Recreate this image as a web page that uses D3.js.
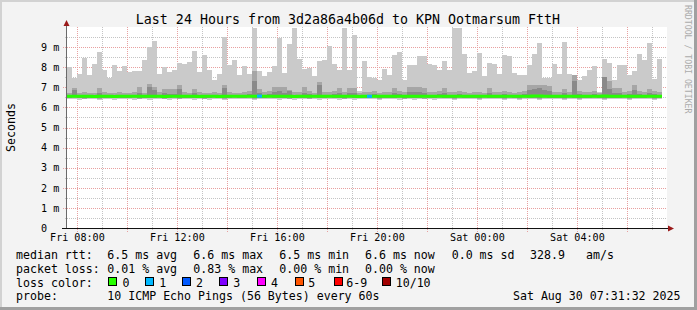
<!DOCTYPE html>
<html>
<head>
<meta charset="utf-8">
<script src="https://cdnjs.cloudflare.com/ajax/libs/d3/7.8.5/d3.min.js"></script>
<style>
	body { margin: 0; background: #f3f3f3; }
	svg { display: block; font-family: "DejaVu Sans Mono", monospace; }
</style>
</head>
<body>
<div id="chart"></div>
<script>
// one value per 12 minute bin, Fri 07:35 -> Sat 07:35 (last bin still empty)
var rttMax = [
	8.00, 7.48, 7.64, 8.45, 7.63, 8.17, 8.75, 7.84, 7.46, 8.09,
	7.80, 8.05, 7.76, 7.79, 7.79, 8.34, 9.00, 9.28, 7.68, 8.00,
	7.76, 7.84, 8.20, 8.14, 8.25, 8.83, 7.76, 8.59, 7.84, 7.34,
	7.64, 9.49, 8.09, 8.37, 7.59, 8.05, 7.68, 9.95, 7.79, 7.54,
	7.76, 8.05, 9.44, 7.71, 9.13, 9.96, 8.39, 7.89, 7.96, 7.54,
	8.29, 8.37, 9.03, 8.17, 7.84, 9.96, 7.84, 9.58, 6.81, 8.30,
	7.51, 7.46, 7.34, 7.93, 7.63, 8.59, 8.78, 7.34, 8.12, 8.09,
	8.55, 8.55, 8.17, 8.09, 7.84, 8.29, 7.84, 9.96, 9.96, 8.67,
	7.73, 7.80, 8.70, 7.54, 8.20, 8.17, 7.64, 8.59, 8.55, 7.71,
	7.59, 7.63, 8.09, 8.67, 9.22, 7.48, 7.48, 8.17, 7.68, 9.25,
	7.68, 7.15, 7.34, 7.56, 7.84, 8.04, 6.77, 8.39, 8.22, 7.34,
	8.09, 8.09, 7.59, 7.80, 8.67, 8.34, 9.20, 7.43, 8.39
];
var rttUpper = [
	6.74, 6.95, 6.72, 6.76, 6.74, 6.72, 6.98, 6.75, 6.72, 6.74,
	6.76, 6.72, 6.74, 6.78, 7.03, 6.74, 7.16, 7.03, 6.76, 6.92,
	6.92, 6.92, 7.11, 6.78, 6.74, 6.92, 6.76, 6.74, 6.72, 6.76,
	6.74, 7.11, 6.78, 6.74, 6.72, 6.76, 6.80, 7.80, 6.90, 6.78,
	6.80, 7.03, 7.03, 7.03, 6.85, 6.78, 6.76, 7.03, 6.80, 6.74,
	7.28, 6.78, 6.76, 6.80, 6.95, 6.76, 6.96, 6.96, 6.74, 6.78,
	6.76, 6.80, 6.74, 6.76, 6.78, 6.96, 6.80, 6.76, 7.00, 7.03,
	7.00, 6.98, 6.78, 6.76, 6.80, 6.96, 6.76, 6.78, 6.80, 6.76,
	6.74, 6.78, 6.76, 6.74, 6.96, 6.78, 6.76, 6.80, 6.76, 6.74,
	6.78, 6.80, 7.10, 7.10, 7.12, 7.10, 7.08, 6.78, 6.76, 6.90,
	6.78, 7.62, 6.80, 6.76, 6.78, 6.80, 6.72, 7.50, 7.30, 6.96,
	6.96, 6.78, 6.80, 7.10, 6.80, 6.78, 6.92, 6.80, 6.78
];
var rttUpperDark = [
	6.63, 6.85, 6.62, 6.64, 6.63, 6.62, 6.70, 6.63, 6.62, 6.63,
	6.64, 6.62, 6.63, 6.64, 6.72, 6.63, 7.00, 6.85, 6.64, 6.70,
	6.68, 6.66, 6.90, 6.64, 6.63, 6.70, 6.64, 6.63, 6.62, 6.64,
	6.63, 6.95, 6.64, 6.63, 6.62, 6.64, 6.66, 7.30, 6.70, 6.64,
	6.66, 6.75, 6.80, 6.72, 6.80, 6.64, 6.64, 6.72, 6.66, 6.63,
	7.10, 6.64, 6.64, 6.66, 6.70, 6.64, 6.72, 6.70, 6.63, 6.64,
	6.64, 6.66, 6.63, 6.64, 6.64, 6.72, 6.66, 6.64, 6.75, 6.78,
	6.75, 6.70, 6.64, 6.64, 6.66, 6.70, 6.64, 6.64, 6.66, 6.64,
	6.63, 6.64, 6.64, 6.63, 6.72, 6.64, 6.64, 6.66, 6.64, 6.63,
	6.64, 6.66, 6.85, 6.90, 6.95, 6.85, 6.80, 6.64, 6.64, 6.70,
	6.64, 7.30, 6.66, 6.64, 6.64, 6.66, 6.62, 7.50, 6.90, 6.70,
	6.72, 6.64, 6.66, 6.85, 6.66, 6.64, 6.70, 6.66, 6.64
];
var rttMedian = [
	6.55, 6.56, 6.55, 6.56, 6.55, 6.54, 6.56, 6.55, 6.55, 6.54,
	6.55, 6.55, 6.56, 6.55, 6.55, 6.56, 6.56, 6.55, 6.55, 6.54,
	6.55, 6.55, 6.56, 6.55, 6.55, 6.55, 6.54, 6.55, 6.55, 6.55,
	6.54, 6.55, 6.55, 6.55, 6.56, 6.55, 6.55, 6.56, 6.56, 6.55,
	6.55, 6.56, 6.56, 6.55, 6.55, 6.54, 6.55, 6.56, 6.55, 6.55,
	6.56, 6.55, 6.55, 6.55, 6.56, 6.55, 6.55, 6.55, 6.54, 6.55,
	6.55, 6.55, 6.55, 6.56, 6.55, 6.56, 6.55, 6.55, 6.56, 6.56,
	6.56, 6.55, 6.55, 6.55, 6.55, 6.56, 6.55, 6.55, 6.55, 6.56,
	6.55, 6.55, 6.56, 6.55, 6.55, 6.56, 6.55, 6.55, 6.56, 6.55,
	6.55, 6.55, 6.56, 6.57, 6.57, 6.56, 6.56, 6.55, 6.55, 6.56,
	6.55, 6.56, 6.55, 6.55, 6.55, 6.56, 6.55, 6.57, 6.56, 6.55,
	6.56, 6.55, 6.55, 6.56, 6.55, 6.55, 6.56, 6.55, 6.56
];
var rttLowerDark = [
	6.49, 6.50, 6.49, 6.48, 6.49, 6.50, 6.48, 6.49, 6.49, 6.50,
	6.49, 6.48, 6.49, 6.50, 6.49, 6.49, 6.48, 6.49, 6.50, 6.49,
	6.49, 6.50, 6.48, 6.49, 6.49, 6.48, 6.50, 6.49, 6.49, 6.50,
	6.49, 6.48, 6.49, 6.50, 6.49, 6.49, 6.50, 6.48, 6.49, 6.49,
	6.50, 6.49, 6.48, 6.49, 6.50, 6.49, 6.49, 6.48, 6.49, 6.50,
	6.49, 6.49, 6.50, 6.48, 6.49, 6.49, 6.50, 6.49, 6.48, 6.49,
	6.49, 6.50, 6.49, 6.49, 6.48, 6.49, 6.50, 6.49, 6.49, 6.48,
	6.49, 6.50, 6.49, 6.49, 6.50, 6.48, 6.49, 6.49, 6.50, 6.49,
	6.49, 6.48, 6.49, 6.50, 6.49, 6.49, 6.48, 6.49, 6.50, 6.49,
	6.49, 6.50, 6.48, 6.49, 6.49, 6.50, 6.49, 6.48, 6.49, 6.49,
	6.50, 6.49, 6.49, 6.48, 6.49, 6.50, 6.49, 6.49, 6.48, 6.49,
	6.49, 6.50, 6.49, 6.49, 6.48, 6.49, 6.50, 6.49, 6.49
];
var rttLower = [
	6.46, 6.45, 6.46, 6.44, 6.46, 6.47, 6.44, 6.46, 6.45, 6.46,
	6.46, 6.45, 6.47, 6.46, 6.44, 6.46, 6.45, 6.46, 6.46, 6.44,
	6.45, 6.46, 6.44, 6.46, 6.47, 6.45, 6.46, 6.44, 6.46, 6.45,
	6.46, 6.44, 6.46, 6.45, 6.46, 6.47, 6.46, 6.44, 6.45, 6.46,
	6.46, 6.47, 6.45, 6.46, 6.44, 6.45, 6.46, 6.46, 6.44, 6.46,
	6.45, 6.46, 6.47, 6.45, 6.46, 6.44, 6.46, 6.45, 6.46, 6.46,
	6.46, 6.45, 6.44, 6.46, 6.47, 6.45, 6.46, 6.44, 6.46, 6.45,
	6.46, 6.44, 6.46, 6.45, 6.46, 6.47, 6.46, 6.44, 6.45, 6.46,
	6.45, 6.46, 6.44, 6.46, 6.47, 6.45, 6.46, 6.44, 6.46, 6.46,
	6.44, 6.46, 6.45, 6.46, 6.44, 6.46, 6.45, 6.47, 6.46, 6.44,
	6.46, 6.45, 6.44, 6.46, 6.45, 6.47, 6.46, 6.44, 6.46, 6.45,
	6.46, 6.45, 6.44, 6.46, 6.47, 6.45, 6.46, 6.44, 6.46
];
var rttMin = [
	6.40, 6.41, 6.39, 6.40, 6.42, 6.40, 6.38, 6.41, 6.40, 6.39,
	6.41, 6.40, 6.42, 6.39, 6.40, 6.41, 6.38, 6.40, 6.41, 6.40,
	6.39, 6.41, 6.40, 6.42, 6.40, 6.38, 6.41, 6.40, 6.39, 6.41,
	6.40, 6.39, 6.41, 6.40, 6.42, 6.40, 6.41, 6.39, 6.40, 6.41,
	6.40, 6.42, 6.39, 6.40, 6.41, 6.38, 6.40, 6.41, 6.40, 6.42,
	6.39, 6.40, 6.41, 6.40, 6.39, 6.41, 6.40, 6.38, 6.41, 6.40,
	6.40, 6.41, 6.39, 6.40, 6.42, 6.40, 6.38, 6.41, 6.40, 6.39,
	6.41, 6.40, 6.42, 6.39, 6.40, 6.41, 6.40, 6.39, 6.41, 6.40,
	6.40, 6.41, 6.39, 6.40, 6.42, 6.40, 6.41, 6.38, 6.40, 6.41,
	6.39, 6.40, 6.41, 6.40, 6.39, 6.41, 6.40, 6.42, 6.40, 6.38,
	6.41, 6.40, 6.39, 6.41, 6.40, 6.42, 6.40, 6.39, 6.41, 6.40,
	6.40, 6.41, 6.39, 6.40, 6.42, 6.40, 6.41, 6.39, 6.40
];
// lost pings out of 10 per bin
var lossCount = [
	0, 0, 0, 0, 0, 0, 0, 0, 0, 0,
	0, 0, 0, 0, 0, 0, 0, 0, 0, 0,
	0, 0, 0, 0, 0, 0, 0, 0, 0, 0,
	0, 0, 0, 0, 0, 0, 0, 0, 1, 0,
	0, 0, 0, 0, 0, 0, 0, 0, 0, 0,
	0, 0, 0, 0, 0, 0, 0, 0, 0, 0,
	1, 0, 0, 0, 0, 0, 0, 0, 0, 0,
	0, 0, 0, 0, 0, 0, 0, 0, 0, 0,
	0, 0, 0, 0, 0, 0, 0, 0, 0, 0,
	0, 0, 0, 0, 0, 0, 0, 0, 0, 0,
	0, 0, 0, 0, 0, 0, 0, 0, 0, 0,
	0, 0, 0, 0, 0, 0, 0, 0, 0
];

var lossLabels = ["0", "1", "2", "3", "4", "5", "6-9", "10/10"];
var lossColors = ["#26ff00", "#00b8ff", "#0059ff", "#7e00ff", "#ff00ff", "#ff5500", "#ff0000", "#a10000"];
var yTickValues = [0, 1, 2, 3, 4, 5, 6, 7, 8, 9];
var rttStats = ["6.5 ms avg", "6.6 ms max", "6.5 ms min", "6.6 ms now", "0.0 ms sd", "328.9", "am/s"];
var lossStats = ["0.01 % avg", "0.83 % max", "0.00 % min", "0.00 % now"];
var titleText = "Last 24 Hours from 3d2a86a4b06d to KPN Ootmarsum FttH";
var probeText = "10 ICMP Echo Pings (56 Bytes) every 60s";
var stampText = "Sat Aug 30 07:31:32 2025";

var W = 697, H = 310;
var plot = {left: 67, right: 667, top: 27, bottom: 228};
var binMinutes = 12;
var t0 = new Date(2025, 7, 29, 7, 35), t1 = new Date(2025, 7, 30, 7, 35);

var x = d3.scaleTime().domain([t0, t1]).range([plot.left, plot.right]);
var y = d3.scaleLinear().domain([0, 10]).range([plot.bottom, plot.top]);

function binStart(i) { return d3.timeMinute.offset(t0, i * binMinutes); }
function crisp(v) { return Math.round(v) + 0.5; }

var svg = d3.select("#chart").append("svg")
	.attr("width", W)
	.attr("height", H);

// frame
svg.append("rect").attr("width", W).attr("height", H).attr("fill", "#f3f3f3");
svg.append("rect").attr("x", 0).attr("y", 0).attr("width", W).attr("height", 2).attr("fill", "#d2d2d2");
svg.append("rect").attr("x", 0).attr("y", 0).attr("width", 2).attr("height", H).attr("fill", "#d2d2d2");
svg.append("rect").attr("x", 0).attr("y", H - 3).attr("width", W).attr("height", 3).attr("fill", "#a0a0a0");
svg.append("rect").attr("x", W - 3).attr("y", 0).attr("width", 3).attr("height", H).attr("fill", "#a0a0a0");

svg.append("rect")
	.attr("x", plot.left).attr("y", plot.top)
	.attr("width", plot.right - plot.left).attr("height", plot.bottom - plot.top)
	.attr("fill", "#ffffff");

var grid = svg.append("g").attr("shape-rendering", "crispEdges").attr("stroke-width", 1);

// minor grid: half ms and every hour
grid.selectAll(".hminor")
	.data(y.ticks(20).filter(function(d) { return d % 1 !== 0; }))
	.enter().append("line")
		.attr("x1", plot.left - 2).attr("x2", plot.right)
		.attr("y1", function(d) { return crisp(y(d)); })
		.attr("y2", function(d) { return crisp(y(d)); })
		.attr("stroke", "#c4c4c4").attr("stroke-dasharray", "1,1");

var hours = d3.timeHour.range(t0, t1);
grid.selectAll(".vminor")
	.data(hours.filter(function(d) { return d.getHours() % 2 === 1; }))
	.enter().append("line")
		.attr("x1", function(d) { return crisp(x(d)); })
		.attr("x2", function(d) { return crisp(x(d)); })
		.attr("y1", plot.top).attr("y2", plot.bottom + 2)
		.attr("stroke", "#c4c4c4").attr("stroke-dasharray", "1,1");

// major grid: whole ms and every 2 hours
grid.selectAll(".hmajor")
	.data(yTickValues.filter(function(d) { return d > 0; }))
	.enter().append("line")
		.attr("x1", plot.left - 4).attr("x2", plot.right)
		.attr("y1", function(d) { return crisp(y(d)); })
		.attr("y2", function(d) { return crisp(y(d)); })
		.attr("stroke", "#e8a0a0").attr("stroke-dasharray", "1,1");

grid.selectAll(".vmajor")
	.data(hours.filter(function(d) { return d.getHours() % 2 === 0; }))
	.enter().append("line")
		.attr("x1", function(d) { return crisp(x(d)); })
		.attr("x2", function(d) { return crisp(x(d)); })
		.attr("y1", plot.top).attr("y2", plot.bottom + 4)
		.attr("stroke", "#e8a0a0").attr("stroke-dasharray", "1,1");

// smoke: outer pings light, inner pings darker
var bins = d3.range(rttMax.length);
var smoke = svg.append("g").attr("shape-rendering", "crispEdges");
var layers = [
	{lo: rttMin, hi: rttMax, color: "#cacaca"},
	{lo: rttLower, hi: rttUpper, color: "#a6a6a6"},
	{lo: rttLowerDark, hi: rttUpperDark, color: "#8a8a8a"}
];
layers.forEach(function(layer) {
	smoke.selectAll(null)
		.data(bins)
		.enter().append("rect")
			.attr("x", function(i) { return x(binStart(i)); })
			.attr("width", function(i) { return x(binStart(i + 1)) - x(binStart(i)); })
			.attr("y", function(i) { return y(layer.hi[i]); })
			.attr("height", function(i) { return y(layer.lo[i]) - y(layer.hi[i]); })
			.attr("fill", layer.color);
});

// median line, coloured by loss
function lossIndex(n) {
	if (n >= 10) return 7;
	if (n >= 6) return 6;
	return n;
}
var medianPts = bins.map(function(i) { return [x(binStart(i)), y(rttMedian[i])]; });
medianPts.push([x(binStart(bins.length)), y(rttMedian[bins.length - 1])]);
var line = d3.line().curve(d3.curveStepAfter);

svg.append("path")
	.attr("d", line(medianPts))
	.attr("fill", "none")
	.attr("stroke", lossColors[0])
	.attr("stroke-width", 3);

svg.selectAll(".lossseg")
	.data(bins.filter(function(i) { return lossCount[i] > 0; }))
	.enter().append("path")
		.attr("d", function(i) {
			return line([[x(binStart(i)), y(rttMedian[i])], [x(binStart(i + 1)), y(rttMedian[i])]]);
		})
		.attr("fill", "none")
		.attr("stroke", function(i) { return lossColors[lossIndex(lossCount[i])]; })
		.attr("stroke-width", 3);

// axes
svg.append("line")
	.attr("x1", plot.left - 0.5).attr("x2", plot.left - 0.5)
	.attr("y1", plot.bottom).attr("y2", plot.top - 3)
	.attr("stroke", "#6a6a6a").attr("shape-rendering", "crispEdges");
svg.append("line")
	.attr("x1", plot.left - 5).attr("x2", plot.right + 2)
	.attr("y1", plot.bottom + 0.5).attr("y2", plot.bottom + 0.5)
	.attr("stroke", "#111").attr("shape-rendering", "crispEdges");
svg.append("path")
	.attr("d", "M" + (plot.left - 3.5) + "," + (plot.top - 1) + "L" + (plot.left - 0.5) + "," + (plot.top - 7) + "L" + (plot.left + 2.5) + "," + (plot.top - 1) + "Z")
	.attr("fill", "#9a1a1a");
svg.append("path")
	.attr("d", "M" + (plot.right + 1) + "," + (plot.bottom - 2.5) + "L" + (plot.right + 7) + "," + (plot.bottom + 0.5) + "L" + (plot.right + 1) + "," + (plot.bottom + 3.5) + "Z")
	.attr("fill", "#9a1a1a");

// tick labels
var fmtTime = d3.timeFormat("%a %H:%M");
svg.selectAll(".xlab")
	.data(hours.filter(function(d) { return d.getHours() % 4 === 0; }))
	.enter().append("text")
		.attr("x", function(d) { return x(d); })
		.attr("y", 240.8)
		.attr("text-anchor", "middle")
		.attr("font-size", "10.1px")
		.attr("fill", "#000")
		.text(fmtTime);

svg.selectAll(".ylab")
	.data(yTickValues)
	.enter().append("text")
		.attr("x", 41)
		.attr("y", function(d) { return y(d) + 3.7; })
		.attr("font-size", "10.1px")
		.attr("fill", "#000")
		.text(function(d) { return d === 0 ? "0" : d + " m"; });

svg.append("text")
	.attr("transform", "translate(14.5," + ((plot.top + plot.bottom) / 2) + ") rotate(-90)")
	.attr("text-anchor", "middle")
	.attr("font-size", "11.6px")
	.text("Seconds");

svg.append("text")
	.attr("x", 348).attr("y", 24)
	.attr("text-anchor", "middle")
	.attr("font-size", "13.3px")
	.text(titleText);

svg.append("text")
	.attr("transform", "translate(684.5,5) rotate(90)")
	.attr("font-size", "8.2px")
	.attr("fill", "#ababab")
	.text("RRDTOOL / TOBI OETIKER");

// legend
var legend = svg.append("g").attr("font-size", "11.6px").attr("fill", "#000")
	.style("white-space", "pre");
var statX = [107.3, 193.3, 279.3, 365, 451.7, 530, 586];
var rows = [259, 272.7, 286.5, 300.2];

legend.append("text").attr("x", 16).attr("y", rows[0]).text("median rtt:");
legend.selectAll(".rtt").data(rttStats).enter().append("text")
	.attr("x", function(d, i) { return statX[i]; })
	.attr("y", rows[0])
	.text(function(d) { return d; });

legend.append("text").attr("x", 16).attr("y", rows[1]).text("packet loss:");
legend.selectAll(".loss").data(lossStats).enter().append("text")
	.attr("x", function(d, i) { return statX[i]; })
	.attr("y", rows[1])
	.text(function(d) { return d; });

legend.append("text").attr("x", 16).attr("y", rows[2]).text("loss color:");
var swX = [108.3, 145, 181.7, 219, 256.7, 295, 334.3, 381.7];
var swLabelX = [122.5, 159.3, 196, 233.3, 271, 308.3, 346.3, 395.7];
legend.selectAll(".sw").data(lossLabels).enter().append("rect")
	.attr("x", function(d, i) { return Math.round(swX[i]) + 0.5; })
	.attr("y", rows[2] - 9)
	.attr("width", 8).attr("height", 8)
	.attr("fill", function(d, i) { return lossColors[i]; })
	.attr("stroke", "#000").attr("stroke-width", 1)
	.attr("shape-rendering", "crispEdges");
legend.selectAll(".swl").data(lossLabels).enter().append("text")
	.attr("x", function(d, i) { return swLabelX[i]; })
	.attr("y", rows[2])
	.text(function(d) { return d; });

legend.append("text").attr("x", 16).attr("y", rows[3]).text("probe:");
legend.append("text").attr("x", 107.3).attr("y", rows[3]).text(probeText);
legend.append("text").attr("x", 680.5).attr("y", rows[3]).attr("text-anchor", "end").text(stampText);
</script>
</body>
</html>
